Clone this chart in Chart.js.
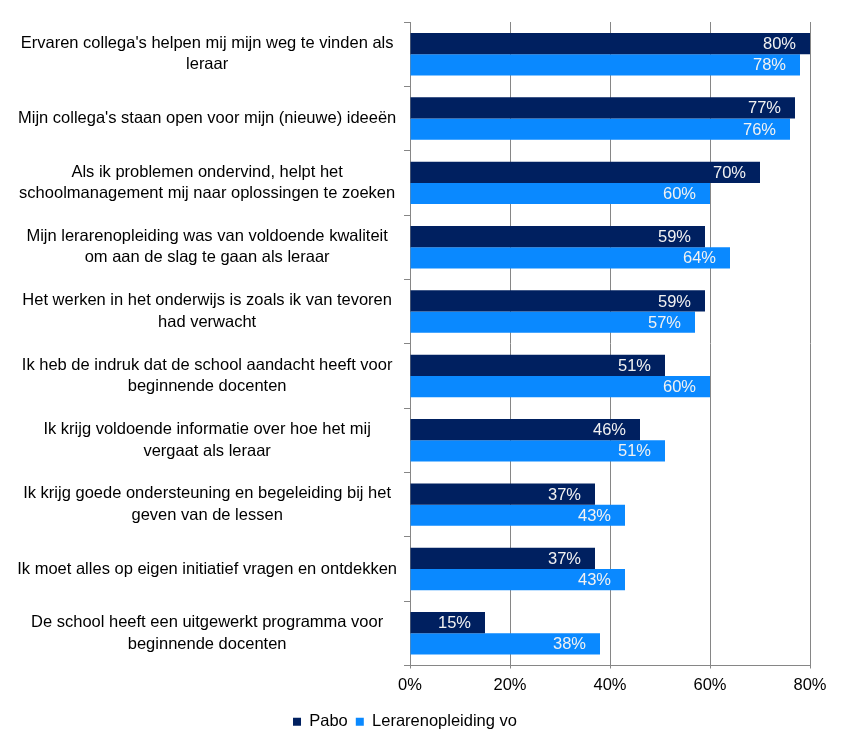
<!DOCTYPE html>
<html>
<head>
<meta charset="utf-8">
<script src="https://cdn.jsdelivr.net/npm/chart.js@4/dist/chart.umd.min.js"></script>
<style>
  html, body { margin: 0; padding: 0; background: #fff; }
  #wrap { width: 849px; height: 750px; position: relative; }
</style>
</head>
<body>
<div id="wrap"><canvas id="barChart"></canvas></div>
<script>
// categorieën (meerdere regels per label)
const categories = [
    ["Ervaren collega's helpen mij mijn weg te vinden als", "leraar"],
    ["Mijn collega's staan open voor mijn (nieuwe) ideeën"],
    ["Als ik problemen ondervind, helpt het", "schoolmanagement mij naar oplossingen te zoeken"],
    ["Mijn lerarenopleiding was van voldoende kwaliteit", "om aan de slag te gaan als leraar"],
    ["Het werken in het onderwijs is zoals ik van tevoren", "had verwacht"],
    ["Ik heb de indruk dat de school aandacht heeft voor", "beginnende docenten"],
    ["Ik krijg voldoende informatie over hoe het mij", "vergaat als leraar"],
    ["Ik krijg goede ondersteuning en begeleiding bij het", "geven van de lessen"],
    ["Ik moet alles op eigen initiatief vragen en ontdekken"],
    ["De school heeft een uitgewerkt programma voor", "beginnende docenten"]
];

const seriesNames = ['Pabo', 'Lerarenopleiding vo'];
const paboValues = [80, 77, 70, 59, 59, 51, 46, 37, 37, 15];
const voValues = [78, 76, 60, 64, 57, 60, 51, 43, 43, 38];
const xTicks = [0, 20, 40, 60, 80];

const FONT = 'Arial, "Liberation Sans", sans-serif';
const FONT_SIZE = 16.5;
const GRID = '#868686';

// waarde-labels binnen het einde van de staaf
const valueLabels = {
    id: 'valueLabels',
    afterDatasetsDraw(chart) {
        const ctx = chart.ctx;
        ctx.save();
        ctx.font = FONT_SIZE + 'px ' + FONT;
        ctx.fillStyle = '#f2f2f2';
        ctx.textAlign = 'right';
        ctx.textBaseline = 'middle';
        chart.data.datasets.forEach((ds, i) => {
            chart.getDatasetMeta(i).data.forEach((bar, j) => {
                ctx.fillText(ds.data[j] + '%', bar.x - 14, bar.y + 1);
            });
        });
        ctx.restore();
    }
};

const ctx = document.getElementById('barChart');
new Chart(ctx, {
    type: 'bar',
    data: {
        labels: categories,
        datasets: [{
            label: seriesNames[0],
            data: paboValues,
            backgroundColor: '#002060',
            categoryPercentage: 0.66,
            barPercentage: 1
        }, {
            label: seriesNames[1],
            data: voValues,
            backgroundColor: '#0a89ff',
            categoryPercentage: 0.66,
            barPercentage: 1
        }]
    },
    plugins: [valueLabels],
    options: {
        indexAxis: 'y',
        responsive: true,
        maintainAspectRatio: false,
        animation: false,
        layout: { padding: { top: 22, right: 39, bottom: 10, left: 0 } },
        scales: {
            x: {
                min: 0,
                max: 80,
                afterBuildTicks: (scale) => { scale.ticks = xTicks.map(v => ({ value: v })); },
                afterFit: (scale) => { scale.height = 40; },
                ticks: {
                    callback: (v) => v + '%',
                    color: '#000',
                    font: { family: FONT, size: FONT_SIZE },
                    padding: 7
                },
                grid: { color: GRID, lineWidth: 1, tickLength: 3, drawTicks: true },
                border: { color: GRID }
            },
            y: {
                afterFit: (scale) => {
                    scale.width = 410;
                    scale.paddingTop = 0;
                    scale.paddingBottom = 0;
                },
                ticks: {
                    crossAlign: 'center',
                    color: '#000',
                    font: { family: FONT, size: FONT_SIZE, lineHeight: 1.3 },
                    padding: 7
                },
                grid: { drawOnChartArea: false, color: GRID, tickLength: 6, offset: true },
                border: { color: GRID }
            }
        },
        plugins: {
            legend: {
                position: 'bottom',
                labels: {
                    boxWidth: 8,
                    boxHeight: 8,
                    color: '#000',
                    font: { family: FONT, size: FONT_SIZE },
                    padding: 8
                }
            },
            tooltip: { enabled: false }
        }
    }
});
</script>
</body>
</html>
